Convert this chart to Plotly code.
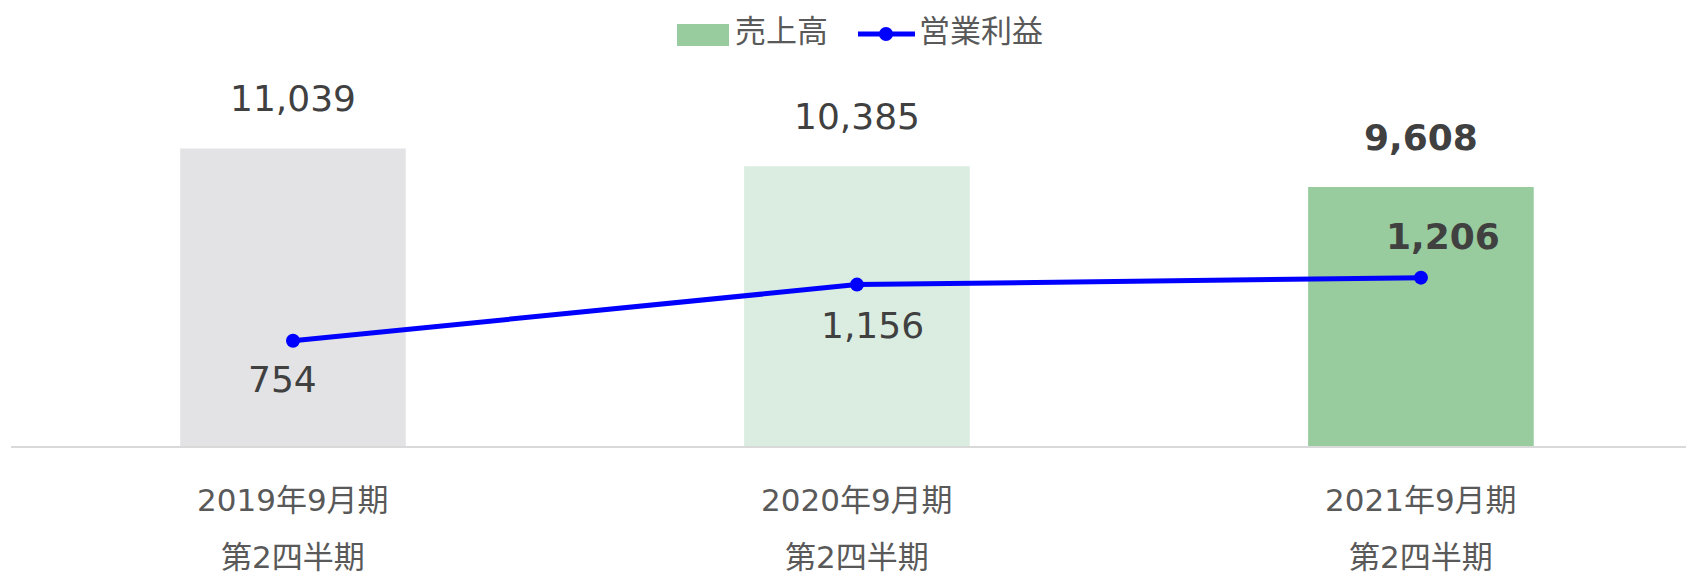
import plotly.graph_objects as go

# ---- data ----
categories = ["2019年9月期", "2020年9月期", "2021年9月期"]
category_line2 = ["第2四半期", "第2四半期", "第2四半期"]
sales = [11039, 10385, 9608]
operating_profit = [754, 1156, 1206]
series_names = ["売上高", "営業利益"]

# ---- style ----
bar_colors = ["#e3e3e5", "#dbede0", "#98cb9d"]
line_color = "#0000ff"
label_color = "#404040"
axis_text_color = "#595959"
num_font = "DejaVu Sans, Verdana, sans-serif"
cjk_font = "DejaVu Sans, Noto Sans CJK JP, sans-serif"
bold_last = [False, False, True]
# pixel offsets (x, y) for the profit labels relative to their point
profit_label_offsets = [(-10, -39), (16, -41), (22, 41)]
sales_label_shift = 50

W, H = 1686, 576
ML, MR, MT, MB = 11, 0, 60, 130
plot_w = W - ML - MR
plot_h = H - MT - MB


def px(x):
    return (x - ML) / plot_w


def py(y):
    return (H - MB - y) / plot_h


fig = go.Figure()
fig.add_trace(go.Bar(
    x=categories, y=sales, name=series_names[0],
    marker=dict(color=bar_colors, line=dict(width=0)),
    width=0.4, showlegend=False, hoverinfo="skip",
))
fig.add_trace(go.Scatter(
    x=categories, y=operating_profit, name=series_names[1], yaxis="y2",
    mode="lines+markers",
    line=dict(color=line_color, width=5),
    marker=dict(color=line_color, size=14),
    showlegend=False, hoverinfo="skip",
))

annotations = []
for i, (c, v) in enumerate(zip(categories, sales)):
    txt = f"{v:,}"
    if bold_last[i]:
        txt = f"<b>{txt}</b>"
    annotations.append(dict(
        x=c, y=v, xref="x", yref="y", text=txt, showarrow=False,
        yshift=sales_label_shift, yanchor="middle", xanchor="center",
        font=dict(family=num_font, size=36, color=label_color),
    ))
for i, (c, v) in enumerate(zip(categories, operating_profit)):
    txt = f"{v:,}"
    if bold_last[i]:
        txt = f"<b>{txt}</b>"
    dx, dy = profit_label_offsets[i]
    annotations.append(dict(
        x=c, y=v, xref="x", yref="y2", text=txt, showarrow=False,
        xshift=dx, yshift=dy, yanchor="middle", xanchor="center",
        font=dict(family=num_font, size=36, color=label_color),
    ))
for c, l2 in zip(categories, category_line2):
    annotations.append(dict(
        x=c, y=0, xref="x", yref="paper", text=c, showarrow=False,
        yshift=-54, yanchor="middle", xanchor="center",
        font=dict(family=cjk_font, size=31, color=axis_text_color),
    ))
    annotations.append(dict(
        x=c, y=0, xref="x", yref="paper", text=l2, showarrow=False,
        yshift=-111, yanchor="middle", xanchor="center",
        font=dict(family=cjk_font, size=31, color=axis_text_color),
    ))

# custom legend
annotations.append(dict(
    x=px(733), y=py(31), xref="paper", yref="paper", text=series_names[0],
    showarrow=False, xanchor="left", yanchor="middle",
    font=dict(family=cjk_font, size=31, color=axis_text_color),
))
annotations.append(dict(
    x=px(917), y=py(31), xref="paper", yref="paper", text=series_names[1],
    showarrow=False, xanchor="left", yanchor="middle",
    font=dict(family=cjk_font, size=31, color=axis_text_color),
))
shapes = [
    dict(type="rect", xref="paper", yref="paper",
         x0=px(677), x1=px(729), y0=py(46), y1=py(24),
         fillcolor=bar_colors[2], line=dict(width=0)),
    dict(type="line", xref="paper", yref="paper",
         x0=px(858), x1=px(915), y0=py(34), y1=py(34),
         line=dict(color=line_color, width=5)),
    dict(type="circle", xref="paper", yref="paper",
         x0=px(879), x1=px(893), y0=py(41), y1=py(27),
         fillcolor=line_color, line=dict(width=0)),
]

fig.update_layout(
    width=W, height=H,
    margin=dict(l=ML, r=MR, t=MT, b=MB, pad=0),
    paper_bgcolor="white", plot_bgcolor="white",
    showlegend=False,
    bargap=0.6,
    xaxis=dict(
        type="category", range=[-0.5, 2.47],
        showticklabels=False, ticks="", showgrid=False, zeroline=False,
        showline=True, linecolor="#d9d9d9", linewidth=2,
    ),
    yaxis=dict(range=[0, 14323], visible=False, showgrid=False, zeroline=False),
    yaxis2=dict(range=[0, 2765], overlaying="y", visible=False,
                showgrid=False, zeroline=False),
    annotations=annotations,
    shapes=shapes,
)

fig.write_html(
    "out.html",
    config={"displayModeBar": False},
    post_script="document.body.style.margin='0';document.body.style.padding='0';document.body.style.overflow='hidden';",
)
